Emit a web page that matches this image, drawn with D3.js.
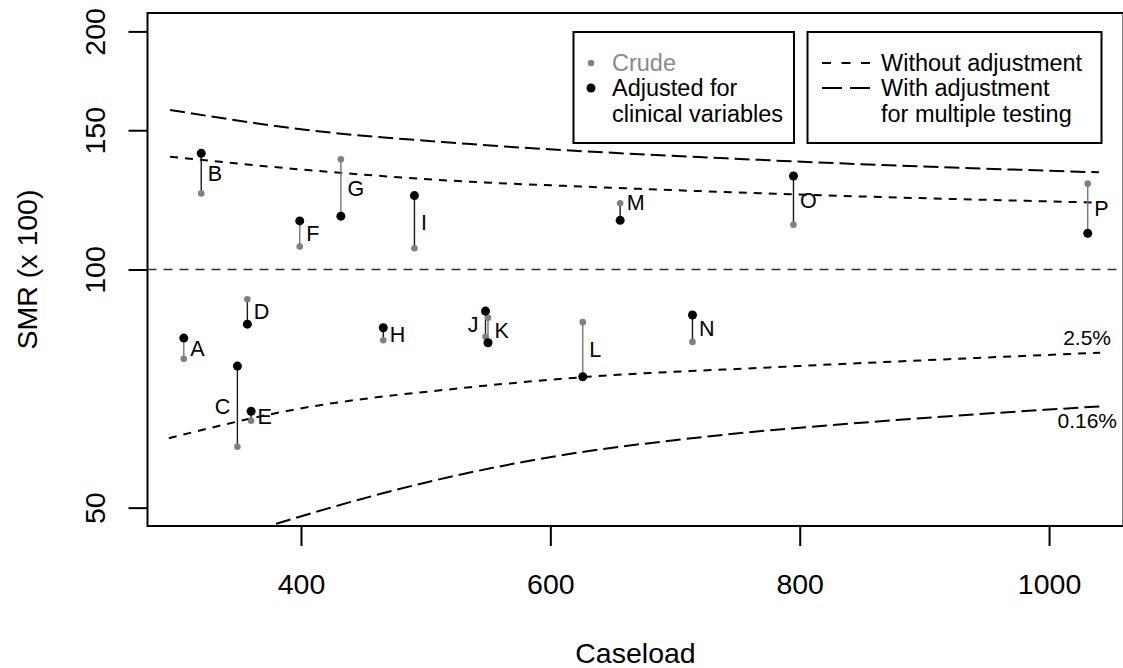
<!DOCTYPE html>
<html>
<head>
<meta charset="utf-8">
<script src="https://cdn.jsdelivr.net/npm/d3@7"></script>
<style>
  body { margin: 0; background: #fff; }
  svg { display: block; font-family: "Liberation Sans", Arial, sans-serif; }
</style>
</head>
<body>
<svg id="chart" width="1123" height="668"></svg>
<script>
// hospitals with caseload and SMR (x 100), crude and adjusted
var hospitals = ["A","B","C","D","E","F","G","H","I","J","K","L","M","N","O","P"];
var caseload  = [306, 320, 349, 357, 360, 399, 432, 466, 491, 548, 550, 626, 656, 714, 795, 1031];
var crudeSMR  = [77.1, 124.8, 59.7, 91.7, 64.4, 106.9, 137.8, 81.4, 106.4, 82.2, 86.9, 85.8, 121.3, 81.0, 113.9, 128.4];
var adjSMR    = [81.9, 140.3, 75.5, 85.3, 66.2, 115.2, 116.8, 84.4, 124.0, 88.6, 80.8, 73.2, 115.4, 87.6, 131.3, 111.1];

// funnel limits: without adjustment (2.5% / 97.5%)
var rawUpperX = [295, 429, 536, 626, 792, 1040];
var rawUpperY = [138.9, 132.6, 129.1, 127.3, 124.5, 121.5];
var rawLowerX = [294, 392, 536, 626, 776, 1041];
var rawLowerY = [61.2, 66.4, 71.0, 73.1, 75.2, 78.5];
// with adjustment for multiple testing (0.16% / 99.84%)
var adjUpperX = [295, 405, 536, 768, 1040];
var adjUpperY = [159.1, 150.1, 144.1, 137.6, 132.7];
var adjLowerX = [380, 445, 477, 602, 726, 876, 1045];
var adjLowerY = [47.7, 51.1, 52.7, 58.0, 61.5, 64.5, 67.2];

var xTicks = [400, 600, 800, 1000];
var yTicks = [50, 100, 150, 200];

// which labels sit left of the segment, and which segments are drawn grey
var leftLabels = ["C", "J"];
var greySegs = ["A", "F", "G", "K", "L", "P"];

var svg = d3.select("#chart");
// note: "top" is taken by window.top, so plot edges get their own names
var pL = 147.5, pR = 1123.5, pT = 13, pB = 526;

var x = d3.scaleLinear().domain([276.9, 1059.7]).range([pL, pR]);
var y = d3.scaleLog().domain([47.4, 211]).range([pB, pT]);

svg.append("clipPath").attr("id", "plotclip")
    .append("rect").attr("x", pL).attr("y", pT)
    .attr("width", pR - pL).attr("height", pB - pT);

var plot = svg.append("g").attr("clip-path", "url(#plotclip)");

// reference line at 100
plot.append("line")
    .attr("x1", pL).attr("x2", pR)
    .attr("y1", y(100)).attr("y2", y(100))
    .attr("stroke", "#333").attr("stroke-width", 1.6)
    .attr("stroke-dasharray", "9,7");

var line = d3.line()
    .x(function (d) { return x(d[0]); })
    .y(function (d) { return y(d[1]); })
    .curve(d3.curveMonotoneX);

function drawCurve(xs, ys, dash) {
    plot.append("path")
        .datum(d3.zip(xs, ys))
        .attr("d", line)
        .attr("fill", "none")
        .attr("stroke", "#000")
        .attr("stroke-width", 2)
        .attr("stroke-dasharray", dash);
}
var shortDash = "8,7", longDash = "15,6";
drawCurve(rawUpperX, rawUpperY, shortDash);
drawCurve(rawLowerX, rawLowerY, shortDash);
drawCurve(adjUpperX, adjUpperY, longDash);
drawCurve(adjLowerX, adjLowerY, longDash);

// hospitals
var rows = hospitals.map(function (h, i) {
    return { name: h, n: caseload[i], crude: crudeSMR[i], adj: adjSMR[i] };
});

plot.selectAll("line.seg")
    .data(rows).enter().append("line")
    .attr("class", "seg")
    .attr("x1", function (d) { return x(d.n); })
    .attr("x2", function (d) { return x(d.n); })
    .attr("y1", function (d) { return y(d.crude); })
    .attr("y2", function (d) { return y(d.adj); })
    .attr("stroke", function (d) { return greySegs.includes(d.name) ? "#777" : "#1a1a1a"; })
    .attr("stroke-width", 1.4);

plot.selectAll("circle.crude")
    .data(rows).enter().append("circle")
    .attr("class", "crude")
    .attr("cx", function (d) { return x(d.n); })
    .attr("cy", function (d) { return y(d.crude); })
    .attr("r", 3.3)
    .attr("fill", "#808080");

plot.selectAll("circle.adj")
    .data(rows).enter().append("circle")
    .attr("class", "adj")
    .attr("cx", function (d) { return x(d.n); })
    .attr("cy", function (d) { return y(d.adj); })
    .attr("r", 4.5)
    .attr("fill", "#000");

plot.selectAll("text.lab")
    .data(rows).enter().append("text")
    .attr("class", "lab")
    .attr("x", function (d) {
        return leftLabels.includes(d.name) ? x(d.n) - 7 : x(d.n) + 6.5;
    })
    .attr("y", function (d) {
        var mid = (y(d.crude) + y(d.adj)) / 2;
        if (d.name === "M") mid -= 9;
        return mid;
    })
    .attr("dy", "0.36em")
    .attr("text-anchor", function (d) { return leftLabels.includes(d.name) ? "end" : "start"; })
    .attr("font-size", 21.5)
    .text(function (d) { return d.name; });

// limit labels
svg.append("text").attr("x", 1111).attr("y", 345)
    .attr("text-anchor", "end").attr("font-size", 21).text("2.5%");
svg.append("text").attr("x", 1117).attr("y", 428)
    .attr("text-anchor", "end").attr("font-size", 21).text("0.16%");

// axes
var xAxis = svg.append("g")
    .attr("transform", "translate(0," + pB + ")")
    .call(d3.axisBottom(x).tickValues(xTicks).tickSize(20).tickFormat(d3.format("d")));
xAxis.select(".domain").remove();
xAxis.selectAll("line").attr("stroke", "#000").attr("stroke-width", 2);
xAxis.selectAll("text")
    .attr("y", 68).attr("dy", 0)
    .attr("font-size", 28.5).attr("font-family", "Liberation Sans, Arial, sans-serif")
    .attr("fill", "#000");

var yAxis = svg.append("g")
    .attr("transform", "translate(" + pL + ",0)")
    .call(d3.axisLeft(y).tickValues(yTicks).tickSize(19).tickFormat(d3.format("d")));
yAxis.select(".domain").remove();
yAxis.selectAll("line").attr("stroke", "#000").attr("stroke-width", 2);
yAxis.selectAll("text")
    .attr("transform", "rotate(-90)")
    .attr("x", 0).attr("y", -42.5).attr("dy", 0)
    .attr("text-anchor", "middle")
    .attr("font-size", 28.5).attr("font-family", "Liberation Sans, Arial, sans-serif")
    .attr("fill", "#000");

// plot box
svg.append("rect")
    .attr("x", pL).attr("y", pT)
    .attr("width", pR - pL).attr("height", pB - pT)
    .attr("fill", "none").attr("stroke", "#000").attr("stroke-width", 2);

// axis titles
svg.append("text")
    .attr("x", (pL + pR) / 2).attr("y", 663)
    .attr("text-anchor", "middle").attr("font-size", 28.5)
    .text("Caseload");
svg.append("text")
    .attr("transform", "translate(37," + y(100) + ") rotate(-90)")
    .attr("text-anchor", "middle").attr("font-size", 28.5)
    .text("SMR (x 100)");

// legends
var legFont = 23.5;
var legRows = [63, 88, 114];

var leg1 = svg.append("g");
leg1.append("rect").attr("x", 573.5).attr("y", 32).attr("width", 220.5).attr("height", 111)
    .attr("fill", "#fff").attr("stroke", "#000").attr("stroke-width", 2);
leg1.append("circle").attr("cx", 591).attr("cy", legRows[0]).attr("r", 3.3).attr("fill", "#808080");
leg1.append("circle").attr("cx", 591).attr("cy", legRows[1]).attr("r", 4.5).attr("fill", "#000");
leg1.append("text").attr("x", 612).attr("y", legRows[0]).attr("dy", "0.36em")
    .attr("font-size", legFont).attr("fill", "#8a8a8a").text("Crude");
leg1.append("text").attr("x", 612).attr("y", legRows[1]).attr("dy", "0.36em")
    .attr("font-size", legFont).text("Adjusted for");
leg1.append("text").attr("x", 612).attr("y", legRows[2]).attr("dy", "0.36em")
    .attr("font-size", legFont).text("clinical variables");

var leg2 = svg.append("g");
leg2.append("rect").attr("x", 807.5).attr("y", 32).attr("width", 294).attr("height", 111)
    .attr("fill", "#fff").attr("stroke", "#000").attr("stroke-width", 2);
leg2.append("line").attr("x1", 822).attr("x2", 870).attr("y1", legRows[0]).attr("y2", legRows[0])
    .attr("stroke", "#000").attr("stroke-width", 2).attr("stroke-dasharray", "9,10.5");
leg2.append("line").attr("x1", 822).attr("x2", 870).attr("y1", legRows[1]).attr("y2", legRows[1])
    .attr("stroke", "#000").attr("stroke-width", 2).attr("stroke-dasharray", "20,8");
leg2.append("text").attr("x", 881).attr("y", legRows[0]).attr("dy", "0.36em")
    .attr("font-size", legFont).text("Without adjustment");
leg2.append("text").attr("x", 881).attr("y", legRows[1]).attr("dy", "0.36em")
    .attr("font-size", legFont).text("With adjustment");
leg2.append("text").attr("x", 881).attr("y", legRows[2]).attr("dy", "0.36em")
    .attr("font-size", legFont).text("for multiple testing");
</script>
</body>
</html>
